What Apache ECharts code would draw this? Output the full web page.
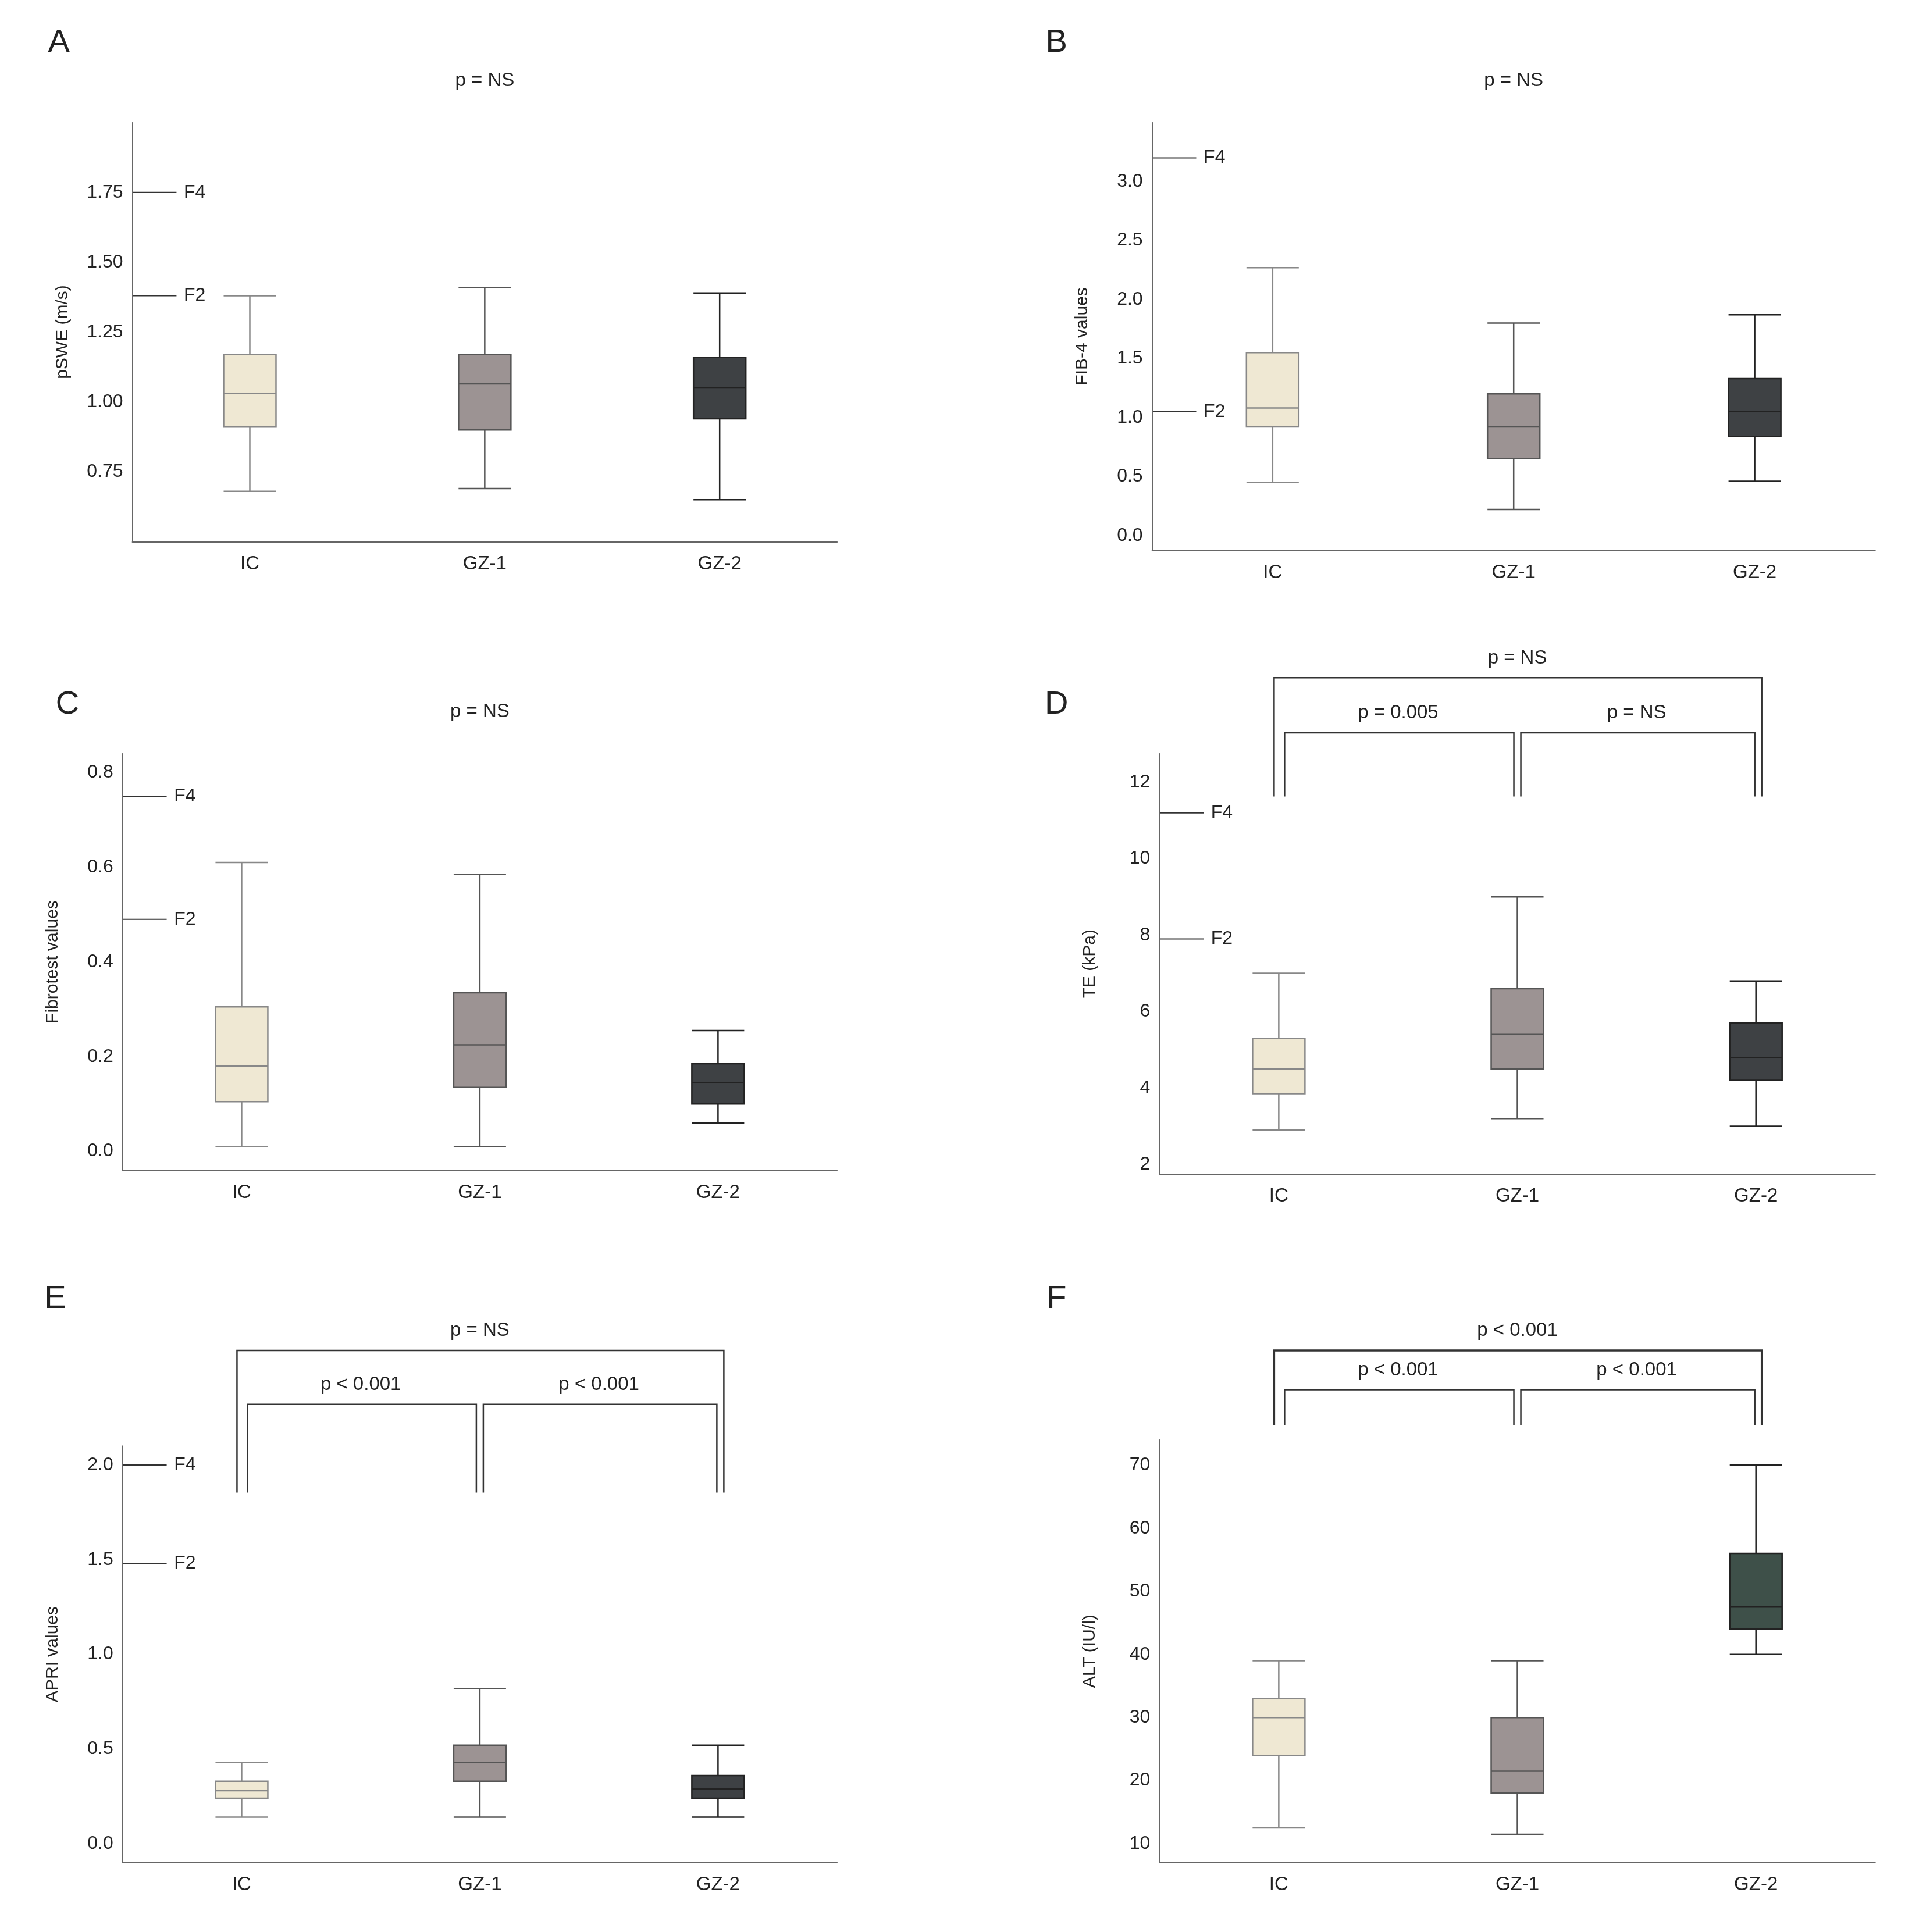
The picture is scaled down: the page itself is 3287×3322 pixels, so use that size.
<!DOCTYPE html>
<html><head><meta charset="utf-8">
<script src="https://cdn.jsdelivr.net/npm/echarts@6/dist/echarts.min.js"></script>
<style>html,body{margin:0;background:#fff}#chart{width:3287px;height:3322px}</style>
</head><body><div id="chart"></div>
<script>
// 画面缩放比例（参考图按 1560 宽度读数）
const S = 3287 / 1560;
const groups = ['IC', 'GZ-1', 'GZ-2'];

// 每组 [min, Q1, median, Q3, max]
const pswe = [[0.68, 0.91, 1.03, 1.17, 1.38], [0.69, 0.90, 1.065, 1.17, 1.41], [0.65, 0.94, 1.05, 1.16, 1.39]];
const fib4 = [[0.45, 0.92, 1.08, 1.55, 2.27], [0.22, 0.65, 0.92, 1.20, 1.80], [0.46, 0.84, 1.05, 1.33, 1.87]];
const fibrotest = [[0.01, 0.105, 0.18, 0.305, 0.61], [0.01, 0.135, 0.225, 0.335, 0.585], [0.06, 0.10, 0.145, 0.185, 0.255]];
const te = [[2.9, 3.85, 4.5, 5.3, 7.0], [3.2, 4.5, 5.4, 6.6, 9.0], [3.0, 4.2, 4.8, 5.7, 6.8]];
const apri = [[0.14, 0.24, 0.28, 0.33, 0.43], [0.14, 0.33, 0.43, 0.52, 0.82], [0.14, 0.24, 0.29, 0.36, 0.52]];
const alt = [[12.5, 24, 30, 33, 39], [11.5, 18, 21.5, 30, 39], [40, 44, 47.5, 56, 70]];

// 阈值线 F2 / F4
const cutoffs = [[1.38, 1.75], [1.05, 3.2], [0.49, 0.75], [7.9, 11.2], [1.48, 2.0], null];
// p 值
const pOuter = ['p = NS', 'p = NS', 'p = NS', 'p = NS', 'p = NS', 'p < 0.001'];
const pPairs = [null, null, null, ['p = 0.005', 'p = NS'], ['p < 0.001', 'p < 0.001'], ['p < 0.001', 'p < 0.001']];

const colors = [['#efe8d3', '#888'], ['#9c9393', '#555'], ['#3e4144', '#222']];
const colorsF = [['#efe8d3', '#888'], ['#9c9393', '#555'], ['#3e5049', '#222']];

// 面板: 数据, 轴名, 网格(参考图坐标), 轴范围, 标签步长
const panels = [
  {d: pswe, name: 'pSWE (m/s)', g: [108, 100, 683, 442], min: 0.5, max: 2.0, iv: 0.25, step: 0.25, lo: 0.75, hi: 1.75, dec: 2, letter: 'A', lx: 48, ly: 35},
  {d: fib4, name: 'FIB-4 values', g: [940, 100, 1530, 449], min: -0.125, max: 3.5, iv: 0.125, step: 0.5, lo: 0, hi: 3.0, dec: 1, letter: 'B', lx: 862, ly: 35},
  {d: fibrotest, name: 'Fibrotest values', g: [100, 615, 683, 955], min: -0.04, max: 0.84, iv: 0.04, step: 0.2, lo: 0, hi: 0.8, dec: 1, letter: 'C', lx: 55, ly: 575},
  {d: te, name: 'TE (kPa)', g: [946, 615, 1530, 958], min: 1.75, max: 12.75, iv: 0.25, step: 2, lo: 2, hi: 12, dec: 0, letter: 'D', lx: 862, ly: 575},
  {d: apri, name: 'APRI values', g: [100, 1180, 683, 1520], min: -0.1, max: 2.1, iv: 0.1, step: 0.5, lo: 0, hi: 2.0, dec: 1, letter: 'E', lx: 45, ly: 1060},
  {d: alt, name: 'ALT (IU/l)', g: [946, 1175, 1530, 1520], min: 7, max: 74, iv: 1, step: 10, lo: 10, hi: 70, dec: 0, letter: 'F', lx: 862, ly: 1060}
];

const font = 'Liberation Sans';
const chart = echarts.init(document.getElementById('chart'));

const grid = [], xAxis = [], yAxis = [], series = [];
panels.forEach((p, i) => {
  grid.push({left: p.g[0] * S, top: p.g[1] * S, width: (p.g[2] - p.g[0]) * S, height: (p.g[3] - p.g[1]) * S});
  xAxis.push({
    type: 'category', gridIndex: i, data: groups,
    axisLine: {onZero: false, lineStyle: {color: '#666', width: 2}}, axisTick: {show: false},
    axisLabel: {fontFamily: font, fontSize: 33, color: '#222', margin: 22}
  });
  yAxis.push({
    type: 'value', gridIndex: i, min: p.min, max: p.max, interval: p.iv,
    name: p.name, nameLocation: 'middle', nameGap: 105, nameRotate: 90,
    nameTextStyle: {fontFamily: font, fontSize: 30, color: '#222'},
    splitLine: {show: false}, axisTick: {show: false},
    axisLine: {show: true, onZero: false, lineStyle: {color: '#666', width: 2}},
    axisLabel: {
      fontFamily: font, fontSize: 32, color: '#222', margin: 16,
      formatter: v => {
        const k = (v - p.lo) / p.step;
        if (v < p.lo - 1e-6 || v > p.hi + 1e-6 || Math.abs(k - Math.round(k)) > 1e-6) return '';
        return v.toFixed(p.dec);
      }
    }
  });
  const cols = i === 5 ? colorsF : colors;
  series.push({
    type: 'boxplot', xAxisIndex: i, yAxisIndex: i, boxWidth: [90, 90],
    data: p.d.map((v, j) => ({value: v, itemStyle: {color: cols[j][0], borderColor: cols[j][1], borderWidth: 2.5}}))
  });
});

chart.setOption({backgroundColor: '#fff', animation: false, grid, xAxis, yAxis, series});

// 注释：字母、p 值、阈值线、括号
const gr = [];
const txt = (x, y, t, size, align) => gr.push({type: 'text', x, y, style: {text: t, fontFamily: font, fontSize: size, fill: '#222', align: align || 'center', verticalAlign: 'middle'}});
const line = (pts, w) => gr.push({type: 'polyline', shape: {points: pts}, style: {stroke: '#333', lineWidth: w || 2.5, fill: null}});

panels.forEach((p, i) => {
  txt(p.lx * S, p.ly * S, p.letter, 56);
  const px = j => chart.convertToPixel({gridIndex: i}, [j, p.min])[0];
  const py = v => chart.convertToPixel({gridIndex: i}, [0, v])[1];
  const left = p.g[0] * S;
  if (cutoffs[i]) {
    ['F2', 'F4'].forEach((lab, k) => {
      const y = py(cutoffs[i][k]);
      line([[left, y], [left + 36 * S, y]], 2);
      txt(left + 42 * S, y, lab, 32, 'left');
    });
  }
  if (!pPairs[i]) {
    txt((p.g[0] + p.g[2]) / 2 * S, (p.g[1] - 34) * S, pOuter[i], 33);
  } else {
    const base = (i === 3 ? 650 : i === 4 ? 1218 : 1163) * S;
    const yo = (i === 3 ? 553 : 1102) * S;
    const yi = (i === 3 ? 598 : i === 4 ? 1146 : 1134) * S;
    const x0 = px(0), x1 = px(1), x2 = px(2);
    line([[x0 - 8, base], [x0 - 8, yo], [x2 + 10, yo], [x2 + 10, base]], i === 5 ? 3.5 : 2.5);
    line([[x0 + 10, base], [x0 + 10, yi], [x1 - 6, yi], [x1 - 6, base]]);
    line([[x1 + 6, base], [x1 + 6, yi], [x2 - 2, yi], [x2 - 2, base]]);
    txt((x0 + x2) / 2, yo - 16 * S, pOuter[i], 33);
    txt((x0 + x1) / 2, yi - 16 * S, pPairs[i][0], 33);
    txt((x1 + x2) / 2, yi - 16 * S, pPairs[i][1], 33);
  }
});
chart.setOption({graphic: gr});
window.onresize = chart.resize;
</script></body></html>
